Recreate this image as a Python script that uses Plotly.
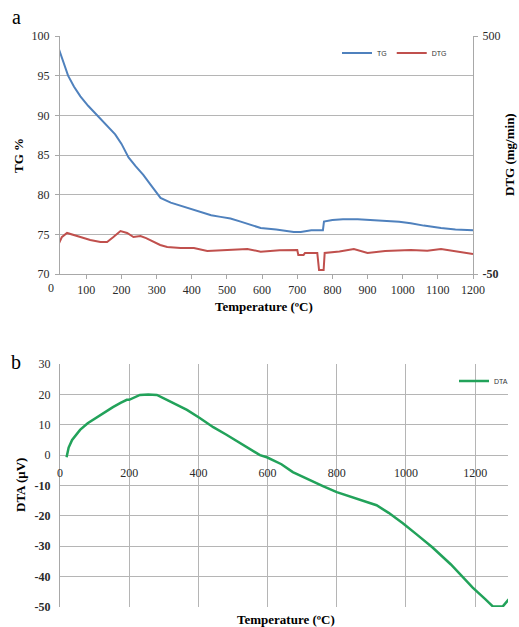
import plotly.graph_objects as go

# ---------------- data ----------------
TG_T = [20, 30, 48, 65, 83, 105, 131, 155, 182, 200, 220, 240, 262, 282, 302, 311,
        340, 368, 400, 425, 455, 482, 510, 539, 570, 596, 640, 690, 710, 740, 773,
        776, 800, 830, 872, 910, 957, 990, 1023, 1060, 1109, 1150, 1200]
TG = [98.6, 97.3, 95.0, 93.6, 92.4, 91.2, 90.0, 88.9, 87.6, 86.4, 84.7, 83.6, 82.5,
      81.3, 80.2, 79.6, 79.0, 78.6, 78.1, 77.8, 77.4, 77.2, 77.0, 76.6, 76.2, 75.8,
      75.6, 75.3, 75.3, 75.5, 75.5, 76.6, 76.8, 76.9, 76.9, 76.8, 76.7, 76.6, 76.4,
      76.1, 75.8, 75.6, 75.5]

DTG_T = [20, 30, 45, 55, 83, 111, 140, 159, 170, 177, 197, 216, 234, 254, 270, 291,
         310, 330, 368, 406, 444, 501, 558, 596, 650, 700, 703, 718, 722, 757, 760,
         762, 775, 778, 820, 861, 900, 950, 1023, 1070, 1109, 1150, 1200]
DTG = [17, 35, 44.8, 42, 35.5, 28.6, 24, 24, 30, 35.5, 49.4, 44.8, 35.5, 37.8, 33,
       24, 17, 12.4, 10.1, 10.1, 3.2, 5.5, 7.8, 1.5, 5, 5.5, -6, -6, -1.5, -1.5, -38,
       -40.8, -40.8, -1.5, 2, 7.8, -1.5, 3, 5.5, 4, 7.8, 3, -3.8]

DTA_T = [19, 25, 35, 58, 80, 107, 130, 153, 175, 193, 200, 215, 231, 255, 280, 309,
         340, 367, 404, 443, 480, 520, 550, 578, 598, 640, 673, 722, 760, 800, 860,
         915, 950, 991, 1030, 1077, 1130, 1193, 1230, 1251, 1280, 1297]
DTA = [-0.7, 2.5, 5, 8.3, 10.5, 12.5, 14.3, 15.8, 17.2, 18.2, 18.2, 19, 19.8, 20,
       19.8, 18.2, 16.5, 14.9, 12.2, 9.2, 6.8, 4, 2, 0, -0.7, -3, -5.6, -8.3, -10.2,
       -12.2, -14.5, -16.5, -19, -22.4, -26, -30.4, -36, -43.6, -47.5, -49.8, -49.8,
       -47.5]

TOP_X_TICKS = [100, 200, 300, 400, 500, 600, 700, 800, 900, 1000, 1100, 1200]
TOP_Y_TICKS = [70, 75, 80, 85, 90, 95, 100]
DTG_TICKS = [-50, 500]
DTG_TICKTEXT = ["<b>-50</b>", "500"]
BOT_X_TICKS = [0, 200, 400, 600, 800, 1000, 1200]
BOT_Y_TICKS = [-50, -40, -30, -20, -10, 0, 10, 20, 30]
BOT_Y_TICKTEXT = ["<b>-50</b>", "<b>-40</b>", "<b>-30</b>", "<b>-20</b>", "<b>-10</b>",
                  "0", "10", "20", "30"]

# ---------------- figure ----------------
W, H = 519, 627
SERIF = "Liberation Serif"
GRID = "#B5B5B5"
AXL = "#A8A8A8"
TICKF = dict(family=SERIF, size=12, color="#2a2a2a")

def px_x(p):
    return p / W

def px_y(p):
    return 1 - p / H

fig = go.Figure()
fig.add_trace(go.Scatter(x=TG_T, y=TG, mode="lines", name="TG",
                         line=dict(color="#4F81BD", width=2),
                         xaxis="x", yaxis="y", legend="legend"))
fig.add_trace(go.Scatter(x=DTG_T, y=DTG, mode="lines", name="DTG",
                         line=dict(color="#C0504D", width=2),
                         xaxis="x", yaxis="y2", legend="legend"))
fig.add_trace(go.Scatter(x=DTA_T, y=DTA, mode="lines", name="DTA",
                         line=dict(color="#22A25A", width=2.5),
                         xaxis="x2", yaxis="y3", legend="legend2"))

top_dom_x = [px_x(60), px_x(473)]
top_dom_y = [px_y(274), px_y(36)]
bot_dom_x = [px_x(60), px_x(508)]
bot_dom_y = [px_y(607), px_y(364)]
zero_pos = bot_dom_y[0] + (bot_dom_y[1] - bot_dom_y[0]) * 50 / 80

fig.update_layout(
    width=W, height=H,
    margin=dict(l=0, r=0, t=0, b=0, autoexpand=False),
    paper_bgcolor="white", plot_bgcolor="white",
    xaxis=dict(domain=top_dom_x, anchor="y", range=[25, 1200],
               tickvals=TOP_X_TICKS, ticks="outside", ticklen=4, tickcolor=AXL,
               showline=True, linecolor=AXL, linewidth=1.2, showgrid=False,
               zeroline=False, tickfont=TICKF),
    yaxis=dict(domain=top_dom_y, anchor="x", range=[70, 100], tickvals=TOP_Y_TICKS,
               ticks="outside", ticklen=4, tickcolor=AXL, showline=True,
               linecolor=AXL, linewidth=1.2, showgrid=True, gridcolor=GRID,
               gridwidth=1.2, zeroline=False, tickfont=TICKF,
               ticklabelstandoff=3),
    yaxis2=dict(overlaying="y", side="right", anchor="x", range=[-50, 500],
                tickvals=DTG_TICKS, ticktext=DTG_TICKTEXT, ticks="outside",
                ticklen=4, tickcolor=AXL, showline=True, linecolor=AXL,
                linewidth=1.2, showgrid=False, zeroline=False, tickfont=TICKF,
                ticklabelstandoff=2),
    xaxis2=dict(domain=bot_dom_x, anchor="free", position=zero_pos,
                range=[0, 1295], tickvals=BOT_X_TICKS, ticks="", showline=False,
                showgrid=True, gridcolor=GRID, gridwidth=1.4, zeroline=False,
                tickfont=TICKF, ticklabelstandoff=9),
    yaxis3=dict(domain=bot_dom_y, anchor="x2", range=[-50, 30],
                tickvals=BOT_Y_TICKS, ticktext=BOT_Y_TICKTEXT, ticks="",
                showline=True, linecolor=AXL, linewidth=1.4, showgrid=True,
                gridcolor=GRID, gridwidth=1.4, zeroline=False, tickfont=TICKF,
                ticklabelstandoff=6),
    legend=dict(orientation="h", x=px_x(452), xanchor="right", y=px_y(53),
                yanchor="middle", bgcolor="rgba(0,0,0,0)",
                font=dict(family="Liberation Sans", size=7, color="#333"),
                itemwidth=30, tracegroupgap=0),
    legend2=dict(x=px_x(513), xanchor="right", y=px_y(381), yanchor="middle",
                 bgcolor="rgba(0,0,0,0)",
                 font=dict(family="Liberation Sans", size=7, color="#333"),
                 itemwidth=30),
    showlegend=True,
)

ann = []
def add_text(text, x, y, size=13, angle=0, bold=True, family=SERIF):
    ann.append(dict(text=("<b>%s</b>" % text) if bold else text,
                    x=px_x(x), y=px_y(y), xref="paper", yref="paper",
                    showarrow=False, textangle=angle, xanchor="center",
                    yanchor="middle", font=dict(family=family, size=size,
                                                color="black")))

add_text("a", 16, 17, size=20, bold=False)
add_text("b", 16, 362, size=20, bold=False)
add_text("TG %", 18, 155, size=13, angle=-90)
add_text("DTG (mg/min)", 509, 155, size=13, angle=-90)
add_text("Temperature (ºC)", 264, 306, size=13)
add_text("DTA (μV)", 20, 485, size=13, angle=-90)
add_text("Temperature (ºC)", 286, 619, size=13)
# the "0" label of the top temperature axis sits left of the axis start
ann.append(dict(text="0", x=px_x(51), y=px_y(288), xref="paper", yref="paper",
                showarrow=False, xanchor="center", yanchor="middle",
                font=TICKF))
fig.update_layout(annotations=ann)

fig.write_html("out.html",
               config={"displayModeBar": False},
               post_script="document.body.style.margin='0';"
                           "document.body.style.overflow='hidden';")
